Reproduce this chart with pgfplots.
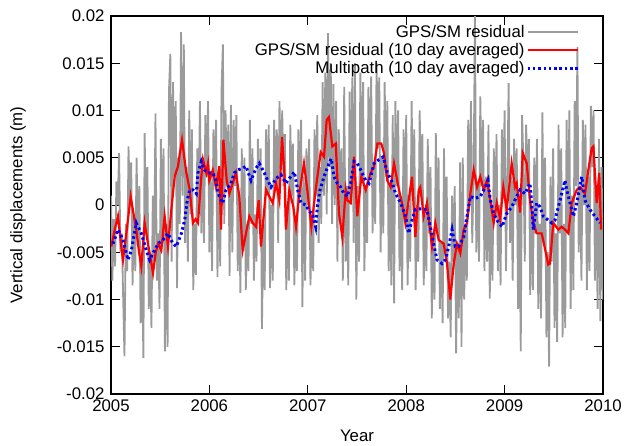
\documentclass[border=0pt]{standalone}
\usepackage{fontspec}
\setmainfont{Liberation Sans}
\usepackage{pgfplots}
\pgfplotsset{compat=1.18}
\definecolor{resgray}{RGB}{155,155,155}
\newcommand{\ff}{\fontsize{16.8}{20}\selectfont}
\begin{document}
\begin{tikzpicture}
\useasboundingbox (-111pt,-51pt) rectangle (517pt,394pt);
\begin{axis}[
  at={(0pt,0pt)}, anchor=south west,
  scale only axis, width=492pt, height=378pt,
  xmin=2005, xmax=2010, ymin=-0.02, ymax=0.02,
  scaled y ticks=false, scaled x ticks=false,
  xtick={2005,2006,2007,2008,2009,2010},
  xticklabels={2005,2006,2007,2008,2009,2010},
  ytick={-0.02,-0.015,-0.01,-0.005,0,0.005,0.01,0.015,0.02},
  yticklabels={-0.02,-0.015,-0.01,-0.005,0,0.005,0.01,0.015,0.02},
  xtick pos=both, ytick pos=both, tick align=inside,
  major tick length=9pt,
  axis line style={line width=1.1pt},
  tick style={line width=0.9pt, black},
  tick label style={font=\ff},
  xticklabel style={yshift=-2pt},
  yticklabel style={xshift=-3pt},
  xlabel={Year}, ylabel={Vertical displacements (m)},
  label style={font=\ff},
  xlabel style={at={(axis description cs:0.5,-0.11)}, anchor=center},
  ylabel style={at={(axis description cs:-0.189,0.5)}, anchor=center},
  legend plot pos=right, legend cell align=right,
  legend image code/.code={\draw[#1] (0pt,0pt) -- (50pt,0pt);},
  legend style={at={(axis description cs:0.958,0.986)}, anchor=north east,
    draw=none, fill=none, font=\ff, row sep=1.5pt,
    nodes={inner sep=1.5pt}},
]
% GPS/SM residual (daily, sampled)
\addplot[resgray, line width=1.8pt] coordinates {
(2005.000,0.0010) (2005.014,-0.0080) (2005.027,-0.0015) (2005.041,-0.0065) (2005.055,0.0025) (2005.068,0.0000) (2005.082,0.0055) (2005.096,-0.0050)
(2005.110,-0.0030) (2005.123,-0.0095) (2005.137,-0.0160) (2005.151,-0.0020) (2005.164,-0.0070) (2005.178,0.0062) (2005.192,0.0000) (2005.205,0.0045)
(2005.219,-0.0085) (2005.233,-0.0010) (2005.247,-0.0070) (2005.260,0.0050) (2005.274,-0.0040) (2005.288,0.0020) (2005.301,-0.0125) (2005.315,-0.0050)
(2005.329,-0.0162) (2005.342,0.0076) (2005.356,-0.0030) (2005.370,0.0040) (2005.384,-0.0110) (2005.397,-0.0050) (2005.411,-0.0130) (2005.425,0.0010)
(2005.438,-0.0060) (2005.452,0.0097) (2005.466,-0.0080) (2005.479,-0.0030) (2005.493,-0.0110) (2005.507,0.0070) (2005.521,-0.0040) (2005.534,0.0060)
(2005.548,-0.0155) (2005.562,-0.0020) (2005.575,-0.0150) (2005.589,0.0120) (2005.603,0.0160) (2005.616,-0.0060) (2005.630,0.0130) (2005.644,0.0030)
(2005.658,0.0110) (2005.671,-0.0088) (2005.685,0.0050) (2005.699,-0.0020) (2005.712,0.0183) (2005.726,0.0010) (2005.740,0.0170) (2005.753,-0.0040)
(2005.767,0.0040) (2005.781,-0.0060) (2005.795,0.0100) (2005.808,-0.0010) (2005.822,0.0080) (2005.836,-0.0090) (2005.849,-0.0020) (2005.863,-0.0074)
(2005.877,0.0060) (2005.890,-0.0010) (2005.904,0.0110) (2005.918,-0.0030) (2005.932,0.0040) (2005.945,-0.0040) (2005.959,0.0095) (2005.973,0.0030)
(2005.986,0.0110) (2006.000,-0.0050) (2006.014,0.0030) (2006.027,-0.0070) (2006.041,0.0080) (2006.055,0.0020) (2006.068,0.0090) (2006.082,-0.0076)
(2006.096,0.0030) (2006.110,-0.0065) (2006.123,0.0120) (2006.137,0.0170) (2006.151,-0.0020) (2006.164,0.0100) (2006.178,0.0020) (2006.192,0.0085)
(2006.205,-0.0075) (2006.219,0.0106) (2006.233,-0.0050) (2006.247,0.0090) (2006.260,0.0020) (2006.274,0.0095) (2006.288,-0.0070) (2006.301,0.0010)
(2006.315,-0.0093) (2006.329,0.0060) (2006.342,-0.0040) (2006.356,0.0050) (2006.370,-0.0090) (2006.384,-0.0020) (2006.397,-0.0070) (2006.411,0.0090)
(2006.425,-0.0020) (2006.438,0.0060) (2006.452,-0.0080) (2006.466,-0.0010) (2006.479,-0.0060) (2006.493,0.0070) (2006.507,0.0000) (2006.521,0.0060)
(2006.534,-0.0131) (2006.548,-0.0020) (2006.562,-0.0090) (2006.575,0.0080) (2006.589,0.0010) (2006.603,0.0085) (2006.616,-0.0088) (2006.630,0.0000)
(2006.644,-0.0080) (2006.658,0.0090) (2006.671,0.0020) (2006.685,0.0080) (2006.699,-0.0040) (2006.712,0.0110) (2006.726,0.0040) (2006.740,0.0100)
(2006.753,0.0020) (2006.767,0.0075) (2006.781,-0.0090) (2006.795,0.0000) (2006.808,-0.0080) (2006.822,0.0085) (2006.836,0.0010) (2006.849,0.0065)
(2006.863,-0.0085) (2006.877,-0.0020) (2006.890,-0.0070) (2006.904,0.0080) (2006.918,0.0010) (2006.932,0.0090) (2006.945,-0.0108) (2006.959,0.0030)
(2006.973,-0.0080) (2006.986,0.0060) (2007.000,0.0000) (2007.014,0.0070) (2007.027,-0.0085) (2007.041,-0.0020) (2007.055,-0.0070) (2007.068,0.0080)
(2007.082,0.0010) (2007.096,0.0095) (2007.110,-0.0040) (2007.123,0.0040) (2007.137,-0.0020) (2007.151,0.0130) (2007.164,0.0010) (2007.178,0.0140)
(2007.192,-0.0010) (2007.205,0.0182) (2007.219,0.0040) (2007.233,0.0150) (2007.247,-0.0020) (2007.260,0.0128) (2007.274,0.0000) (2007.288,0.0110)
(2007.301,-0.0060) (2007.315,0.0080) (2007.329,-0.0020) (2007.342,0.0060) (2007.356,-0.0080) (2007.370,0.0125) (2007.384,-0.0060) (2007.397,0.0020)
(2007.411,-0.0085) (2007.425,0.0120) (2007.438,0.0010) (2007.452,0.0135) (2007.466,-0.0040) (2007.479,0.0150) (2007.493,-0.0100) (2007.507,0.0020)
(2007.521,-0.0060) (2007.534,0.0140) (2007.548,0.0030) (2007.562,0.0130) (2007.575,-0.0070) (2007.589,0.0020) (2007.603,-0.0040) (2007.616,0.0125)
(2007.630,0.0030) (2007.644,0.0136) (2007.658,-0.0030) (2007.671,0.0040) (2007.685,-0.0020) (2007.699,0.0150) (2007.712,0.0060) (2007.726,0.0135)
(2007.740,-0.0050) (2007.753,0.0050) (2007.767,-0.0030) (2007.781,0.0130) (2007.795,0.0030) (2007.808,0.0110) (2007.822,-0.0070) (2007.836,0.0020)
(2007.849,-0.0085) (2007.863,0.0095) (2007.877,-0.0104) (2007.890,0.0110) (2007.904,0.0020) (2007.918,0.0100) (2007.932,-0.0070) (2007.945,0.0010)
(2007.959,-0.0090) (2007.973,0.0080) (2007.986,-0.0010) (2008.000,0.0095) (2008.014,-0.0085) (2008.027,0.0000) (2008.041,-0.0060) (2008.055,0.0110)
(2008.068,0.0010) (2008.082,0.0080) (2008.096,-0.0090) (2008.110,0.0000) (2008.123,-0.0060) (2008.137,0.0100) (2008.151,0.0010) (2008.164,0.0075)
(2008.178,-0.0085) (2008.192,-0.0010) (2008.205,-0.0070) (2008.219,0.0070) (2008.233,-0.0030) (2008.247,0.0040) (2008.260,-0.0120) (2008.274,-0.0030)
(2008.288,-0.0100) (2008.301,0.0076) (2008.315,-0.0030) (2008.329,0.0050) (2008.342,-0.0110) (2008.356,-0.0040) (2008.370,-0.0125) (2008.384,0.0060)
(2008.397,-0.0050) (2008.411,0.0030) (2008.425,-0.0120) (2008.438,-0.0060) (2008.452,-0.0140) (2008.466,0.0010) (2008.479,-0.0060) (2008.493,0.0020)
(2008.507,-0.0157) (2008.521,-0.0040) (2008.534,-0.0120) (2008.548,0.0045) (2008.562,-0.0150) (2008.575,0.0050) (2008.589,-0.0100) (2008.603,-0.0020)
(2008.616,-0.0080) (2008.630,0.0090) (2008.644,0.0000) (2008.658,0.0110) (2008.671,-0.0040) (2008.685,0.0030) (2008.699,0.0200) (2008.712,-0.0050)
(2008.726,0.0020) (2008.740,-0.0060) (2008.753,0.0115) (2008.767,0.0020) (2008.781,0.0090) (2008.795,-0.0070) (2008.808,0.0030) (2008.822,-0.0060)
(2008.836,0.0085) (2008.849,-0.0099) (2008.863,0.0000) (2008.877,-0.0080) (2008.890,0.0060) (2008.904,-0.0010) (2008.918,0.0075) (2008.932,-0.0070)
(2008.945,0.0000) (2008.959,-0.0085) (2008.973,0.0080) (2008.986,0.0010) (2009.000,0.0100) (2009.014,-0.0070) (2009.027,0.0020) (2009.041,0.0129)
(2009.055,-0.0040) (2009.068,0.0030) (2009.082,-0.0080) (2009.096,0.0070) (2009.110,0.0000) (2009.123,0.0060) (2009.137,-0.0110) (2009.151,0.0000)
(2009.164,-0.0155) (2009.178,0.0095) (2009.192,0.0040) (2009.205,-0.0060) (2009.219,0.0085) (2009.233,0.0020) (2009.247,0.0070) (2009.260,-0.0095)
(2009.274,-0.0010) (2009.288,-0.0090) (2009.301,0.0050) (2009.315,-0.0030) (2009.329,0.0070) (2009.342,-0.0110) (2009.356,-0.0020) (2009.370,-0.0120)
(2009.384,0.0098) (2009.397,-0.0040) (2009.411,0.0050) (2009.425,-0.0140) (2009.438,-0.0050) (2009.452,-0.0171) (2009.466,0.0030) (2009.479,-0.0060)
(2009.493,0.0060) (2009.507,-0.0130) (2009.521,-0.0030) (2009.534,-0.0145) (2009.548,0.0085) (2009.562,-0.0030) (2009.575,0.0060) (2009.589,-0.0140)
(2009.603,-0.0020) (2009.616,-0.0130) (2009.630,0.0090) (2009.644,-0.0030) (2009.658,0.0100) (2009.671,-0.0110) (2009.685,0.0010) (2009.699,-0.0090)
(2009.712,0.0110) (2009.726,0.0020) (2009.740,0.0167) (2009.753,-0.0050) (2009.767,0.0020) (2009.781,-0.0080) (2009.795,0.0090) (2009.808,0.0000)
(2009.822,0.0085) (2009.836,-0.0090) (2009.849,0.0030) (2009.863,-0.0070) (2009.877,0.0105) (2009.890,0.0040) (2009.904,0.0100) (2009.918,-0.0080)
(2009.932,0.0010) (2009.945,-0.0110) (2009.959,0.0070) (2009.973,-0.0123) (2009.986,0.0040) (2010.000,-0.0100)
};
\addlegendentry{GPS/SM residual}
% GPS/SM residual (10 day averaged)
\addplot[red, line width=2.2pt] coordinates {
(2005.003,-0.0044) (2005.040,-0.0025) (2005.071,-0.0012) (2005.100,-0.0040) (2005.122,-0.0058) (2005.156,-0.0030) (2005.200,0.0009)
(2005.230,-0.0010) (2005.257,-0.0026) (2005.285,-0.0050) (2005.308,-0.0065) (2005.342,-0.0019) (2005.376,-0.0041) (2005.400,-0.0055)
(2005.427,-0.0072) (2005.455,-0.0050) (2005.478,-0.0041) (2005.511,-0.0048) (2005.545,-0.0012) (2005.579,-0.0044) (2005.613,-0.0005)
(2005.647,0.0030) (2005.681,0.0041) (2005.700,0.0055) (2005.722,0.0069) (2005.745,0.0050) (2005.766,0.0034) (2005.800,0.0016)
(2005.833,-0.0019) (2005.860,-0.0015) (2005.884,-0.0019) (2005.918,0.0030) (2005.935,0.0048) (2005.969,0.0034) (2005.986,0.0044)
(2005.999,0.0026) (2006.034,0.0037) (2006.067,0.0019) (2006.101,0.0041) (2006.118,-0.0026) (2006.142,0.0069) (2006.176,0.0026)
(2006.203,0.0012) (2006.237,0.0023) (2006.270,0.0034) (2006.304,0.0009) (2006.338,-0.0048) (2006.372,-0.0030) (2006.406,-0.0012)
(2006.440,-0.0019) (2006.474,-0.0023) (2006.501,0.0005) (2006.524,-0.0044) (2006.575,0.0016) (2006.609,0.0009) (2006.643,0.0002)
(2006.677,0.0023) (2006.711,0.0005) (2006.738,0.0072) (2006.762,0.0034) (2006.778,-0.0026) (2006.812,0.0016) (2006.853,-0.0002)
(2006.880,-0.0023) (2006.914,0.0012) (2006.961,0.0044) (2006.995,0.0016) (2007.036,-0.0023) (2007.080,0.0016) (2007.131,0.0056)
(2007.165,0.0051) (2007.192,0.0090) (2007.215,0.0093) (2007.249,0.0062) (2007.284,0.0065) (2007.317,-0.0009) (2007.351,-0.0034)
(2007.385,0.0016) (2007.402,0.0005) (2007.436,0.0002) (2007.470,0.0051) (2007.503,-0.0012) (2007.544,0.0030) (2007.588,0.0016)
(2007.639,0.0034) (2007.673,0.0041) (2007.707,0.0065) (2007.747,0.0065) (2007.774,0.0055) (2007.808,0.0026) (2007.842,0.0019)
(2007.876,0.0044) (2007.927,0.0016) (2007.957,0.0002) (2007.991,-0.0019) (2008.025,0.0005) (2008.059,0.0030) (2008.093,-0.0034)
(2008.127,0.0016) (2008.143,0.0019) (2008.178,-0.0012) (2008.211,0.0002) (2008.262,-0.0044) (2008.296,-0.0019) (2008.330,-0.0037)
(2008.381,-0.0041) (2008.415,-0.0062) (2008.448,-0.0100) (2008.483,-0.0062) (2008.516,-0.0041) (2008.550,-0.0051) (2008.584,-0.0026)
(2008.618,-0.0019) (2008.652,0.0012) (2008.686,0.0037) (2008.720,0.0019) (2008.753,0.0030) (2008.788,0.0016) (2008.821,0.0026)
(2008.855,0.0005) (2008.889,-0.0019) (2008.920,0.0002) (2008.955,-0.0015) (2008.987,0.0019) (2009.021,-0.0005) (2009.072,0.0044)
(2009.106,0.0019) (2009.123,0.0023) (2009.157,-0.0008) (2009.184,0.0055) (2009.225,0.0044) (2009.258,0.0005) (2009.292,-0.0019)
(2009.326,-0.0030) (2009.377,-0.0030) (2009.444,-0.0063) (2009.461,-0.0062) (2009.495,-0.0019) (2009.546,-0.0026) (2009.580,-0.0023)
(2009.614,-0.0026) (2009.648,-0.0030) (2009.682,0.0002) (2009.733,0.0016) (2009.766,0.0019) (2009.817,0.0012) (2009.851,0.0037)
(2009.885,0.0060) (2009.902,0.0062) (2009.936,0.0002) (2009.962,0.0034) (2009.980,-0.0026)
};
\addlegendentry{GPS/SM residual (10 day averaged)}
% Multipath (10 day averaged)
\addplot[blue, line width=3pt, dash pattern=on 2.5pt off 2.8pt] coordinates {
(2005.020,-0.0041) (2005.071,-0.0026) (2005.122,-0.0037) (2005.173,-0.0058) (2005.207,-0.0048) (2005.257,-0.0019) (2005.308,-0.0030)
(2005.359,-0.0048) (2005.393,-0.0058) (2005.427,-0.0051) (2005.478,-0.0041) (2005.528,-0.0037) (2005.579,-0.0030) (2005.630,-0.0041)
(2005.664,-0.0044) (2005.715,-0.0030) (2005.749,-0.0016) (2005.775,0.0005) (2005.800,0.0016) (2005.833,0.0016) (2005.867,0.0012)
(2005.884,0.0034) (2005.918,0.0046) (2005.952,0.0037) (2005.986,0.0034) (2006.034,0.0034) (2006.067,0.0026) (2006.084,0.0016)
(2006.101,0.0009) (2006.135,0.0002) (2006.169,0.0016) (2006.220,0.0023) (2006.253,0.0034) (2006.288,0.0037) (2006.338,0.0039)
(2006.372,0.0041) (2006.423,0.0026) (2006.474,0.0039) (2006.507,0.0044) (2006.558,0.0034) (2006.592,0.0026) (2006.626,0.0019)
(2006.677,0.0028) (2006.728,0.0032) (2006.778,0.0023) (2006.812,0.0028) (2006.863,0.0035) (2006.897,0.0016) (2006.931,0.0002)
(2006.982,0.0000) (2007.015,-0.0007) (2007.046,-0.0009) (2007.080,-0.0023) (2007.097,-0.0002) (2007.124,0.0016) (2007.165,0.0030)
(2007.215,0.0044) (2007.239,0.0049) (2007.266,0.0030) (2007.300,0.0023) (2007.334,0.0019) (2007.368,0.0012) (2007.402,0.0009)
(2007.436,0.0023) (2007.470,0.0046) (2007.503,0.0044) (2007.538,0.0037) (2007.588,0.0026) (2007.622,0.0023) (2007.673,0.0044)
(2007.724,0.0048) (2007.767,0.0051) (2007.808,0.0034) (2007.849,0.0026) (2007.893,0.0012) (2007.944,0.0002) (2007.995,-0.0012)
(2008.025,-0.0030) (2008.059,-0.0016) (2008.093,-0.0005) (2008.127,-0.0004) (2008.161,-0.0004) (2008.211,-0.0005) (2008.245,-0.0023)
(2008.279,-0.0041) (2008.313,-0.0058) (2008.364,-0.0062) (2008.398,-0.0058) (2008.432,-0.0044) (2008.466,-0.0026) (2008.499,-0.0044)
(2008.534,-0.0044) (2008.584,-0.0034) (2008.618,-0.0012) (2008.652,0.0009) (2008.702,0.0007) (2008.753,0.0009) (2008.804,0.0019)
(2008.831,0.0026) (2008.855,0.0005) (2008.889,-0.0009) (2008.940,-0.0019) (2008.974,-0.0023) (2009.021,-0.0009) (2009.072,-0.0002)
(2009.123,0.0009) (2009.157,0.0016) (2009.207,0.0012) (2009.258,0.0023) (2009.275,0.0002) (2009.292,-0.0026) (2009.326,0.0002)
(2009.360,-0.0002) (2009.393,-0.0012) (2009.444,-0.0016) (2009.479,-0.0019) (2009.512,-0.0016) (2009.546,-0.0002) (2009.580,0.0012)
(2009.614,0.0026) (2009.631,0.0016) (2009.665,0.0002) (2009.699,-0.0012) (2009.733,0.0002) (2009.784,0.0030) (2009.817,0.0005)
(2009.868,-0.0005) (2009.919,-0.0012) (2009.970,-0.0019)
};
\addlegendentry{Multipath (10 day averaged)}
\end{axis}
\end{tikzpicture}
\end{document}
